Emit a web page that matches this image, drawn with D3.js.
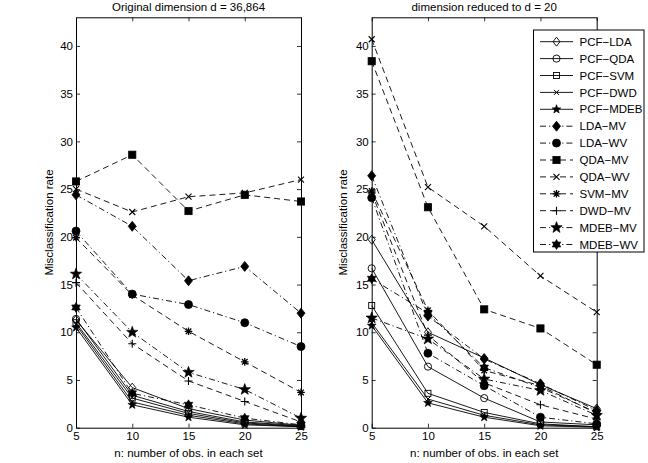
<!DOCTYPE html>
<html><head><meta charset="utf-8">
<script src="https://cdn.jsdelivr.net/npm/d3@7"></script>
<style>
html,body{margin:0;padding:0;background:#fff;}
svg text{font-family:"Liberation Sans",Arial,Helvetica,sans-serif;fill:#000;}
</style></head>
<body><svg id="c" width="648" height="463"></svg>
<script>
const xValues = [5, 10, 15, 20, 25];
const xTicks = [5, 10, 15, 20, 25];
const yTicks = [0, 5, 10, 15, 20, 25, 30, 35, 40];
const seriesNames = ["PCF\u2212LDA","PCF\u2212QDA","PCF\u2212SVM","PCF\u2212DWD","PCF\u2212MDEB",
  "LDA\u2212MV","LDA\u2212WV","QDA\u2212MV","QDA\u2212WV","SVM\u2212MV","DWD\u2212MV","MDEB\u2212MV","MDEB\u2212WV"];
const panelTitles = ["Original dimension d = 36,864", "dimension reduced to d = 20"];
const xLabel = "n: number of obs. in each set";
const yLabel = "Misclassification rate";

// values for the original dimension panel (same order as seriesNames)
const origValues = [
  [11.3, 4.2, 2.0, 0.8, 0.25],
  [11.4, 3.4, 1.7, 0.6, 0.2],
  [11.0, 3.1, 1.5, 0.5, 0.15],
  [10.8, 2.7, 1.3, 0.4, 0.1],
  [10.5, 2.4, 1.1, 0.3, 0.1],
  [24.4, 21.1, 15.4, 16.9, 12.0],
  [20.6, 14.0, 12.9, 11.0, 8.5],
  [25.8, 28.6, 22.7, 24.4, 23.7],
  [25.0, 22.6, 24.2, 24.6, 26.0],
  [19.9, 13.9, 10.1, 6.9, 3.7],
  [15.2, 8.8, 4.9, 2.75, 0.6],
  [16.1, 10.0, 5.8, 4.0, 1.0],
  [12.6, 3.6, 2.4, 1.0, 0.3]
];
// values for the reduced dimension panel
const reducedValues = [
  [19.7, 10.0, 7.3, 4.5, 2.0],
  [16.7, 6.4, 3.1, 0.6, 0.3],
  [12.8, 3.6, 1.6, 0.4, 0.1],
  [11.0, 3.0, 1.3, 0.3, 0.1],
  [10.7, 2.6, 1.1, 0.2, 0.05],
  [26.4, 11.7, 7.2, 4.6, 1.8],
  [24.1, 7.8, 4.4, 1.1, 0.4],
  [38.4, 23.1, 12.4, 10.4, 6.6],
  [40.7, 25.2, 21.1, 15.9, 12.1],
  [24.8, 12.3, 6.0, 4.4, 1.5],
  [24.6, 9.7, 4.7, 2.4, 0.9],
  [11.5, 9.3, 5.1, 3.9, 1.3],
  [15.6, 12.0, 6.3, 4.2, 1.6]
];

// styles (kept apart from data)
const lineStyles = ["solid","solid","solid","solid","solid","dashdot","dashdot","dashed","dashed","dashed","dashed","dashdot","dashdot"];
const markerStyles = ["diamondOpen","circleOpen","squareOpen","xSmall","starSmall","diamond","circle","square","x","asterisk","plus","star","hexagram"];
const dashMap = {solid: null, dashed: "6,4", dashdot: "6,3,1.2,3"};

const svg = d3.select("#c");
const FONT = "11.5px";

function starPath(R, n, ratio) {
  const pts = [];
  for (let i = 0; i < 2 * n; i++) {
    const r = i % 2 === 0 ? R : R * ratio;
    const a = -Math.PI / 2 + i * Math.PI / n;
    pts.push([r * Math.cos(a), r * Math.sin(a)]);
  }
  return "M" + pts.map(p => p[0].toFixed(2) + "," + p[1].toFixed(2)).join("L") + "Z";
}
function hexagramPath(R) {
  const tri = (off) => {
    const p = [];
    for (let i = 0; i < 3; i++) {
      const a = off + i * 2 * Math.PI / 3;
      p.push([R * Math.cos(a), R * Math.sin(a)]);
    }
    return "M" + p.map(q => q[0].toFixed(2) + "," + q[1].toFixed(2)).join("L") + "Z";
  };
  return tri(-Math.PI / 2) + tri(Math.PI / 2);
}
function drawMarker(g, type, x, y) {
  const t = g.append("g").attr("transform", `translate(${x},${y})`);
  const black = "#000";
  switch (type) {
    case "diamondOpen":
      t.append("path").attr("d", "M0,-4.5L3.5,0L0,4.5L-3.5,0Z").attr("fill", "none").attr("stroke", black).attr("stroke-width", 0.9); break;
    case "diamond":
      t.append("path").attr("d", "M0,-5L4,0L0,5L-4,0Z").attr("fill", black).attr("stroke", black).attr("stroke-width", 0.8); break;
    case "circleOpen":
      t.append("circle").attr("r", 3.6).attr("fill", "none").attr("stroke", black).attr("stroke-width", 0.9); break;
    case "circle":
      t.append("circle").attr("r", 4).attr("fill", black).attr("stroke", black).attr("stroke-width", 0.8); break;
    case "squareOpen":
      t.append("rect").attr("x", -3).attr("y", -3).attr("width", 6).attr("height", 6).attr("fill", "none").attr("stroke", black).attr("stroke-width", 0.9); break;
    case "square":
      t.append("rect").attr("x", -3.6).attr("y", -3.6).attr("width", 7.2).attr("height", 7.2).attr("fill", black).attr("stroke", black).attr("stroke-width", 0.8); break;
    case "xSmall":
      t.append("path").attr("d", "M-2.5,-2.5L2.5,2.5M-2.5,2.5L2.5,-2.5").attr("stroke", black).attr("stroke-width", 1); break;
    case "x":
      t.append("path").attr("d", "M-3,-3L3,3M-3,3L3,-3").attr("stroke", black).attr("stroke-width", 1.1); break;
    case "plus":
      t.append("path").attr("d", "M-4,0L4,0M0,-4L0,4").attr("stroke", black).attr("stroke-width", 1.1); break;
    case "asterisk":
      t.append("path").attr("d", "M-3.8,0L3.8,0M0,-3.8L0,3.8M-2.8,-2.8L2.8,2.8M-2.8,2.8L2.8,-2.8").attr("stroke", black).attr("stroke-width", 1.3); break;
    case "starSmall":
      t.append("path").attr("d", starPath(4.6, 5, 0.4)).attr("fill", black).attr("stroke", black).attr("stroke-width", 0.6); break;
    case "star":
      t.append("path").attr("d", starPath(6, 5, 0.42)).attr("fill", black).attr("stroke", black).attr("stroke-width", 0.6); break;
    case "hexagram":
      t.append("path").attr("d", hexagramPath(5)).attr("fill", black).attr("stroke", black).attr("stroke-width", 0.6); break;
  }
}

const yTop = 17.3, yBottom = 427.7;
const panels = [
  {x0: 76, x1: 301, values: origValues, title: panelTitles[0], ylabX: 49},
  {x0: 371.7, x1: 596.7, values: reducedValues, title: panelTitles[1], ylabX: 343}
];

panels.forEach((p, pi) => {
  const x = d3.scaleLinear().domain([5, 25]).range([p.x0, p.x1]);
  const y = d3.scaleLinear().domain([0, 43]).range([yBottom, yTop]);
  const g = svg.append("g");

  // series lines
  const line = d3.line().x((d, i) => x(xValues[i])).y(d => y(d));
  p.values.forEach((vals, si) => {
    const sg = g.append("g");
    sg.append("path").datum(vals).attr("d", line)
      .attr("fill", "none").attr("stroke", "#000").attr("stroke-width", 0.9)
      .attr("stroke-dasharray", dashMap[lineStyles[si]]);
    vals.forEach((v, i) => drawMarker(sg, markerStyles[si], x(xValues[i]), y(v)));
  });

  // axes (ticks inward, box)
  const axStyle = sel => {
    sel.selectAll("path.domain").attr("stroke", "#000").attr("stroke-width", 1);
    sel.selectAll("line").attr("stroke", "#000").attr("stroke-width", 0.8);
    sel.selectAll("text").style("font-size", FONT).attr("font-family", null).attr("fill", "#000");
  };
  g.append("g").attr("transform", `translate(0,${yBottom})`)
    .call(d3.axisBottom(x).tickValues(xTicks).tickFormat(d3.format("d")).tickSizeInner(-4).tickSizeOuter(0).tickPadding(4))
    .call(axStyle);
  g.append("g").attr("transform", `translate(0,${yTop})`)
    .call(d3.axisTop(x).tickValues(xTicks).tickFormat("").tickSizeInner(-4).tickSizeOuter(0))
    .call(axStyle);
  g.append("g").attr("transform", `translate(${p.x0},0)`)
    .call(d3.axisLeft(y).tickValues(yTicks).tickFormat(d3.format("d")).tickSizeInner(-4).tickSizeOuter(0).tickPadding(3))
    .call(axStyle);
  g.append("g").attr("transform", `translate(${p.x1},0)`)
    .call(d3.axisRight(y).tickValues(yTicks).tickFormat("").tickSizeInner(-4).tickSizeOuter(0))
    .call(axStyle);
  g.selectAll("path.domain").attr("fill", "none");

  // title
  g.append("text").attr("x", (p.x0 + p.x1) / 2).attr("y", 10.5).attr("text-anchor", "middle")
    .style("font-size", FONT).text(p.title);
  // x label
  g.append("text").attr("x", (p.x0 + p.x1) / 2).attr("y", 456.5).attr("text-anchor", "middle")
    .style("font-size", FONT).text(xLabel);
  // y label
  g.append("text").attr("transform", `translate(${p.ylabX},${(yTop + yBottom) / 2}) rotate(-90)`)
    .attr("text-anchor", "middle").attr("dy", "0.35em").style("font-size", FONT).text(yLabel);
});

// legend (on right panel)
const lg = svg.append("g");
const lx0 = 533.5, lx1 = 644, ly0 = 30, ly1 = 252;
lg.append("rect").attr("x", lx0).attr("y", ly0).attr("width", lx1 - lx0).attr("height", ly1 - ly0)
  .attr("fill", "#fff").attr("stroke", "#000").attr("stroke-width", 1);
seriesNames.forEach((name, si) => {
  const yy = 41.7 + si * 16.9;
  lg.append("line").attr("x1", 540).attr("x2", 573).attr("y1", yy).attr("y2", yy)
    .attr("stroke", "#000").attr("stroke-width", 0.9).attr("stroke-dasharray", dashMap[lineStyles[si]]);
  drawMarker(lg, markerStyles[si], 556.5, yy);
  lg.append("text").attr("x", 579.5).attr("y", yy).attr("dy", "0.36em").style("font-size", FONT).text(name);
});
</script></body></html>
